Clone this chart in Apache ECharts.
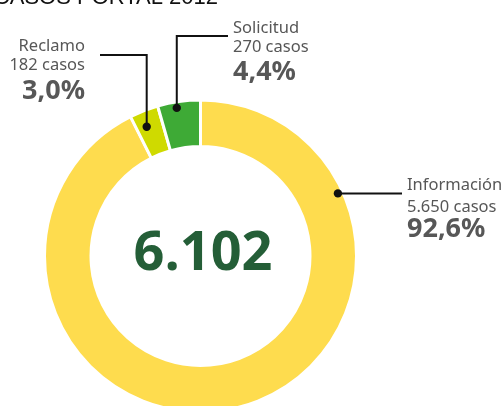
<!DOCTYPE html>
<html>
<head>
<meta charset="utf-8">
<script src="https://cdn.jsdelivr.net/npm/echarts@6/dist/echarts.min.js"></script>
<style>
  html, body { margin: 0; padding: 0; background: #ffffff; }
  #chart { width: 502px; height: 406px; }
</style>
</head>
<body>
<div id="chart"></div>
<script>
// Cases received through the portal in 2012, by type
const chartTitle = 'CASOS PORTAL 2012';
const categories = ['Información', 'Reclamo', 'Solicitud'];
const caseCounts = [5650, 182, 270];
const sliceColors = ['#FEDC4E', '#CFDA00', '#3EAA36'];

// ring geometry (pixels)
const CX = 200.5, CY = 256, R_IN = 111, R_OUT = 154.5;
const GAP = 3;

// callout layout per category: dot on the ring (angle clockwise from 12 o'clock, radius),
// leader elbow / end, and text block anchor
const calloutLayout = {
  'Información': { angle: 65.5, r: 151, elbowY: null, endX: 402, textX: 407, align: 'left',  lines: [185, 207.5, 229.5] },
  'Reclamo':     { angle: -22.6, r: 140, elbowY: 55, endX: 100, textX: 85,  align: 'right', lines: [46.3, 65, 91.2] },
  'Solicitud':   { angle: -9.1, r: 150, elbowY: 36, endX: 228, textX: 233, align: 'left',  lines: [28.3, 47.2, 72.5] }
};

const total = caseCounts.reduce((a, b) => a + b, 0);
const fmtInt = n => String(n).replace(/\B(?=(\d{3})+(?!\d))/g, '.');
const fmtPct = v => (Math.round(v * 1000) / 10).toFixed(1).replace('.', ',') + '%';

const LABEL_FONT = '"Noto Sans", "Open Sans", sans-serif';
const graphics = [];

graphics.push({
  type: 'text', x: 218, y: 9, silent: true,
  style: {
    text: chartTitle, align: 'right', verticalAlign: 'bottom',
    font: '22px "Liberation Sans", Arial, sans-serif', fill: '#111111'
  }
});

graphics.push({
  type: 'text', x: 203, y: 255, silent: true,
  style: {
    text: fmtInt(total), align: 'center', verticalAlign: 'middle',
    font: 'bold 54px "Open Sans", "Noto Sans", sans-serif', fill: '#245E37'
  }
});

categories.forEach((name, i) => {
  const c = calloutLayout[name];
  const rad = c.angle * Math.PI / 180;
  const dx = CX + c.r * Math.sin(rad);
  const dy = CY - c.r * Math.cos(rad);
  const pts = c.elbowY == null
    ? [[dx, dy], [c.endX, dy]]
    : [[dx, dy], [dx, c.elbowY], [c.endX, c.elbowY]];
  graphics.push({
    type: 'polyline', silent: true, z: 10,
    shape: { points: pts },
    style: { stroke: '#111111', lineWidth: 2, fill: null }
  });
  graphics.push({
    type: 'circle', silent: true, z: 11,
    shape: { cx: dx, cy: dy, r: 4.2 },
    style: { fill: '#111111' }
  });
  const texts = [
    { t: name, font: '16.5px ' + LABEL_FONT },
    { t: fmtInt(caseCounts[i]) + ' casos', font: '16.5px ' + LABEL_FONT },
    { t: fmtPct(caseCounts[i] / total), font: 'bold 27px ' + LABEL_FONT }
  ];
  texts.forEach((tx, k) => {
    graphics.push({
      type: 'text', x: c.textX, y: c.lines[k], silent: true, z: 10,
      style: { text: tx.t, align: c.align, verticalAlign: 'middle', font: tx.font, fill: '#575757' }
    });
  });
});

const chart = echarts.init(document.getElementById('chart'), null, { renderer: 'canvas' });
chart.setOption({
  animation: false,
  backgroundColor: '#ffffff',
  series: [{
    type: 'pie',
    center: [CX, CY],
    radius: [R_IN - GAP / 2, R_OUT + GAP / 2],
    startAngle: 90,
    clockwise: true,
    silent: true,
    label: { show: false },
    labelLine: { show: false },
    itemStyle: { borderColor: '#ffffff', borderWidth: GAP },
    data: categories.map((name, i) => ({
      name, value: caseCounts[i], itemStyle: { color: sliceColors[i] }
    }))
  }],
  graphic: graphics
});
</script>
</body>
</html>
